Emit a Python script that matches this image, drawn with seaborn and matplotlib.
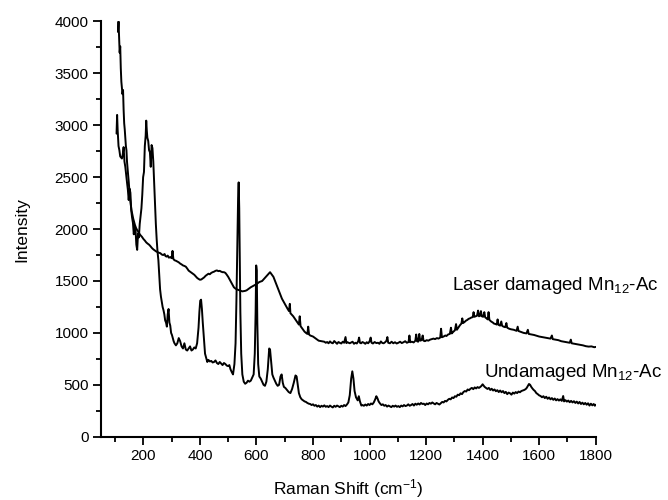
import matplotlib
matplotlib.use("Agg")
import matplotlib.pyplot as plt
import pandas as pd
import seaborn as sns
from matplotlib.ticker import MultipleLocator

# ---------------- data ----------------
laser_x = [110, 112, 114, 116, 118, 120, 122, 124, 126, 128, 130, 132, 134, 136, 138, 140, 142, 144, 146, 148,
           150, 152, 155, 158, 161, 164, 167, 170, 174, 178, 182, 186, 190, 195, 200, 205, 210, 215, 220, 225,
           230, 235, 240, 245, 250, 255, 260, 265, 270, 275, 278, 282, 286, 290, 295, 300, 303, 306, 310, 315,
           320, 325, 330, 335, 340, 345, 350, 355, 360, 365, 370, 375, 380, 385, 390, 395, 400, 405, 410, 415,
           420, 425, 430, 435, 440, 445, 450, 455, 460, 465, 470, 475, 480, 485, 490, 495, 500, 505, 510, 515,
           520, 525, 530, 535, 540, 545, 550, 555, 560, 565, 570, 575, 580, 585, 590, 595, 600, 605, 610, 615,
           620, 625, 630, 635, 640, 645, 648, 652, 656, 660, 665, 670, 675, 680, 685, 690, 695, 700, 705, 710,
           715, 718, 720, 725, 730, 735, 740, 745, 750, 753, 756, 760, 765, 770, 775, 780, 783, 786, 790, 795,
           800, 805, 810, 815, 820, 825, 830, 835, 840, 845, 850, 855, 860, 865, 870, 875, 880, 885, 890, 895,
           900, 905, 910, 915, 918, 922, 930, 935, 940, 945, 950, 955, 960, 963, 966, 970, 975, 980, 985, 990,
           995, 1000, 1004, 1007, 1012, 1018, 1024, 1030, 1035, 1040, 1045, 1050, 1055, 1060, 1063, 1066, 1072,
           1078, 1084, 1090, 1096, 1102, 1108, 1114, 1120, 1126, 1132, 1138, 1141, 1144, 1150, 1156, 1162, 1165,
           1168, 1172, 1176, 1179, 1184, 1188, 1191, 1196, 1202, 1208, 1214, 1220, 1226, 1232, 1238, 1244, 1250,
           1253, 1256, 1262, 1268, 1272, 1278, 1284, 1288, 1291, 1296, 1302, 1306, 1309, 1314, 1320, 1325, 1328,
           1331, 1336, 1342, 1346, 1350, 1355, 1360, 1365, 1368, 1371, 1376, 1380, 1384, 1387, 1391, 1394, 1397,
           1402, 1406, 1409, 1414, 1418, 1421, 1424, 1430, 1436, 1440, 1446, 1450, 1453, 1456, 1462, 1466, 1469,
           1474, 1480, 1484, 1487, 1494, 1500, 1510, 1520, 1524, 1527, 1535, 1545, 1555, 1560, 1563, 1572, 1582,
           1592, 1600, 1610, 1620, 1630, 1640, 1645, 1648, 1658, 1668, 1678, 1688, 1698, 1708, 1712, 1715, 1725,
           1735, 1745, 1755, 1765, 1775, 1785, 1795, 1800]
laser_y = [3900, 4000, 3850, 3700, 3760, 3550, 3420, 3360, 3300, 3340, 3150, 3020, 2960, 2880, 2800, 2760, 2650, 2580, 2520, 2460,
           2380, 2310, 2240, 2180, 2140, 2100, 2070, 2040, 2010, 1990, 1975, 1955, 1940, 1925, 1905, 1890, 1872, 1860, 1850, 1835,
           1818, 1805, 1795, 1785, 1778, 1772, 1768, 1755, 1750, 1760, 1740, 1735, 1745, 1725, 1730, 1720, 1790, 1712, 1700, 1695,
           1688, 1680, 1668, 1660, 1650, 1645, 1638, 1620, 1600, 1590, 1580, 1570, 1560, 1545, 1530, 1520, 1512, 1515, 1525, 1535,
           1550, 1560, 1570, 1565, 1578, 1585, 1590, 1598, 1602, 1595, 1598, 1590, 1585, 1585, 1578, 1560, 1540, 1515, 1490, 1465,
           1440, 1428, 1420, 1415, 1410, 1405, 1400, 1402, 1405, 1410, 1420, 1430, 1440, 1448, 1455, 1462, 1470, 1480, 1490, 1495,
           1500, 1515, 1530, 1545, 1560, 1575, 1585, 1570, 1555, 1540, 1505, 1470, 1435, 1400, 1365, 1330, 1305, 1280, 1255, 1232,
           1210, 1280, 1190, 1175, 1160, 1140, 1120, 1100, 1080, 1160, 1065, 1050, 1030, 1012, 1000, 990, 1060, 985, 975, 970,
           965, 955, 945, 935, 925, 922, 920, 918, 915, 905, 912, 900, 918, 905, 900, 922, 908, 895, 912, 904,
           898, 915, 905, 960, 902, 910, 900, 908, 915, 895, 905, 898, 920, 955, 905, 900, 912, 905, 895, 910,
           900, 918, 955, 905, 898, 912, 902, 905, 895, 918, 903, 900, 910, 925, 960, 905, 900,
           915, 900, 910, 898, 905, 915, 902, 910, 920, 905, 912, 975, 910, 915, 908, 925, 985,
           920, 915, 990, 925, 930, 975, 925, 920, 930, 925, 935, 940, 945, 940, 950, 945, 955,
           1040, 958, 965, 975, 970, 985, 990, 1050, 995, 1010, 1025, 1085, 1030, 1050, 1075, 1090, 1140,
           1095, 1105, 1120, 1125, 1135, 1140, 1148, 1152, 1200, 1155, 1160, 1165, 1215, 1160, 1165, 1210, 1160,
           1155, 1200, 1150, 1140, 1130, 1200, 1125, 1110, 1100, 1090, 1085, 1080, 1130, 1078, 1070, 1110, 1068,
           1060, 1055, 1095, 1050, 1040, 1035, 1030, 1020, 1060, 1018, 1010, 1000, 995, 1030, 990, 985, 980,
           972, 965, 960, 955, 950, 945, 975, 940, 935, 930, 920, 915, 910, 905, 935, 900, 895,
           890, 885, 880, 872, 868, 870, 862, 865]

undamaged_x = [105, 107, 109, 112, 115, 118, 121, 124, 127, 130, 133, 136, 139, 142, 145, 148, 151, 154, 157, 160,
               163, 166, 169, 172, 175, 178, 181, 184, 187, 190, 193, 196, 199, 202, 205, 208, 210, 212, 214, 217,
               220, 223, 226, 229, 232, 235, 238, 241, 244, 247, 250, 253, 256, 259, 262, 265, 268, 271, 274, 277,
               280, 283, 286, 289, 292, 295, 298, 301, 304, 307, 310, 315, 320, 325, 330, 335, 340, 345, 350, 355,
               360, 365, 370, 375, 380, 385, 390, 395, 398, 401, 404, 407, 410, 414, 418, 422, 426, 430, 435, 440,
               445, 450, 455, 460, 465, 470, 475, 480, 485, 490, 495, 500, 504, 508, 513, 517, 522, 526, 529, 532,
               535, 537, 539, 541, 543, 546, 550, 555, 560, 565, 570, 575, 580, 585, 590, 594, 597, 599, 601, 603,
               606, 610, 615, 620, 625, 630, 635, 640, 645, 648, 652, 656, 660, 665, 670, 675, 680, 685, 689, 693,
               697, 702, 708, 714, 720, 726, 732, 738, 742, 746, 750, 755, 760, 765, 770, 775, 780, 785, 790, 795,
               800, 805, 810, 815, 820, 825, 830, 835, 840, 845, 850, 855, 860, 865, 870, 875, 880, 885, 890, 895,
               900, 905, 910, 915, 920, 925, 930, 935, 939, 943, 947, 952, 958, 962, 966, 971, 975, 980, 985, 990,
               995, 1000, 1005, 1010, 1015, 1020, 1024, 1028, 1032, 1037, 1042, 1047, 1052, 1057, 1062, 1067, 1072,
               1077, 1082, 1087, 1092, 1097, 1102, 1107, 1112, 1117, 1122, 1127, 1132, 1137, 1142, 1147, 1152, 1157,
               1162, 1167, 1172, 1177, 1182, 1187, 1192, 1197, 1202, 1207, 1212, 1217, 1222, 1227, 1232, 1237, 1242,
               1247, 1252, 1257, 1262, 1267, 1272, 1277, 1282, 1287, 1292, 1297, 1302, 1307, 1312, 1317, 1322, 1327,
               1332, 1337, 1342, 1347, 1352, 1357, 1362, 1367, 1372, 1377, 1382, 1387, 1392, 1396, 1400, 1403, 1407,
               1412, 1417, 1422, 1427, 1432, 1437, 1442, 1447, 1452, 1457, 1462, 1467, 1472, 1477, 1482, 1487, 1492,
               1497, 1502, 1507, 1512, 1517, 1522, 1527, 1532, 1537, 1542, 1547, 1552, 1556, 1560, 1564, 1568, 1572,
               1576, 1580, 1585, 1590, 1595, 1600, 1605, 1610, 1615, 1620, 1625, 1630, 1635, 1640, 1645, 1650, 1655,
               1660, 1665, 1670, 1675, 1680, 1685, 1688, 1693, 1698, 1703, 1708, 1713, 1718, 1723, 1728, 1733, 1738,
               1743, 1748, 1753, 1758, 1763, 1768, 1773, 1778, 1783, 1788, 1793, 1797, 1800]
undamaged_y = [2920, 3100, 2950, 2800, 2760, 2700, 2690, 2680, 2720, 2790, 2650, 2600, 2520, 2450, 2380, 2280, 2390, 2350, 2180, 2110,
               2060, 1950, 2030, 2000, 1850, 1800, 1960, 1920, 2050, 2130, 2200, 2330, 2500, 2550, 2800, 2900, 3045, 2950, 2880, 2850,
               2760, 2740, 2600, 2810, 2780, 2650, 2450, 2250, 2050, 1900, 1780, 1700, 1560, 1420, 1350, 1300, 1250, 1220, 1180, 1120,
               1100, 1060, 1180, 1230, 1100, 1070, 1000, 980, 950, 920, 900, 880, 900, 950, 920, 870, 850, 900, 840, 830,
               850, 870, 830, 840, 860, 850, 900, 1050, 1200, 1310, 1320, 1230, 1100, 950, 800, 760, 720, 740, 725, 730,
               715, 720, 735, 710, 700, 720, 705, 690, 710, 700, 685, 680, 690, 650, 620, 600, 700, 900, 1300, 1800,
               2300, 2450, 2200, 1700, 1200, 800, 600, 530, 510, 520, 540, 530, 540, 570, 600, 800, 1200, 1650, 1600, 1100,
               700, 580, 560, 530, 500, 490, 530, 650, 850, 840, 720, 600, 570, 540, 510, 490, 500, 580, 600, 520,
               480, 470, 450, 430, 420, 460, 520, 590, 580, 500, 420, 380, 360, 350, 340, 335, 325, 318, 315, 305,
               312, 298, 305, 290, 300, 285, 298, 290, 302, 288, 295, 285, 300, 290, 282, 298, 288, 300, 292, 285,
               298, 290, 305, 295, 310, 330, 400, 560, 630, 560, 440, 380, 350, 390, 340, 300, 305, 298, 310, 300,
               315, 305, 320, 312, 330, 360, 390, 370, 340, 320, 305, 312, 298, 305, 290, 300, 292,
               285, 298, 290, 300, 288, 295, 285, 300, 292, 305, 295, 300, 312, 298, 305, 315, 300,
               318, 308, 320, 310, 325, 315, 318, 305, 320, 312, 325, 318, 330, 320, 312, 325, 318,
               310, 322, 335, 330, 345, 340, 355, 365, 360, 378, 372, 390, 385, 405, 400, 418, 410,
               430, 440, 435, 455, 448, 462, 470, 458, 475, 465, 478, 470, 480, 490, 505, 495, 480,
               470, 460, 470, 450, 462, 445, 455, 438, 448, 430, 445, 428, 440, 420, 432, 410, 425,
               418, 405, 425, 415, 430, 420, 435, 428, 440, 445, 450, 458, 470, 490, 508, 500, 480,
               465, 452, 440, 420, 410, 398, 392, 380, 390, 372, 385, 365, 378, 360, 372, 355, 368,
               350, 362, 348, 360, 345, 392, 340, 352, 338, 348, 332, 345, 330, 342, 325, 338, 320,
               335, 315, 328, 312, 325, 308, 322, 300, 318, 302, 315, 298, 308]

x_major_ticks = [200, 400, 600, 800, 1000, 1200, 1400, 1600, 1800]
y_major_ticks = [0, 500, 1000, 1500, 2000, 2500, 3000, 3500, 4000]
x_label = "Raman Shift (cm$^{-1}$)"
y_label = "Intensity"
label_laser = "Laser damaged Mn$_{12}$-Ac"
label_undamaged = "Undamaged Mn$_{12}$-Ac"

# ---------------- styling ----------------
sns.set_theme(style="ticks")
plt.rcParams["font.family"] = ["Liberation Sans", "DejaVu Sans"]
plt.rcParams["mathtext.default"] = "regular"

fig = plt.figure(figsize=(6.68, 5.0), dpi=100)
ax = fig.add_axes([101 / 668, 1 - 436.7 / 500, (595.7 - 101) / 668, (436.7 - 21.5) / 500])

df_laser = pd.DataFrame({"shift": laser_x, "intensity": laser_y})
df_und = pd.DataFrame({"shift": undamaged_x, "intensity": undamaged_y})

sns.lineplot(data=df_und, x="shift", y="intensity", sort=False, estimator=None,
             color="black", linewidth=1.4, ax=ax)
sns.lineplot(data=df_laser, x="shift", y="intensity", sort=False, estimator=None,
             color="black", linewidth=1.4, ax=ax)

ax.set_xlim(50, 1800)
ax.set_ylim(0, 4000)
ax.set_xticks(x_major_ticks)
ax.set_yticks(y_major_ticks)
ax.xaxis.set_minor_locator(MultipleLocator(100))
ax.yaxis.set_minor_locator(MultipleLocator(250))

for side in ["top", "right"]:
    ax.spines[side].set_visible(False)
for side in ["left", "bottom"]:
    ax.spines[side].set_linewidth(1.5)
    ax.spines[side].set_color("black")

ax.tick_params(axis="both", which="major", direction="out", length=6, width=1.3,
               colors="black", labelsize=11, pad=3)
ax.tick_params(axis="both", which="minor", direction="out", length=3.5, width=1.3, colors="black")

ax.set_xlabel(x_label, fontsize=12.5, color="black")
ax.set_ylabel(y_label, fontsize=12.5, color="black")
ax.xaxis.set_label_coords(0.5, -0.098)
ax.yaxis.set_label_coords(-0.145, 0.5)

ax.text(1290, 1413, label_laser, fontsize=13.5, color="black", va="baseline", ha="left", clip_on=False)
ax.text(1405, 578, label_undamaged, fontsize=13.5, color="black", va="baseline", ha="left", clip_on=False)

fig.savefig("out.png", dpi=100, facecolor="white")
